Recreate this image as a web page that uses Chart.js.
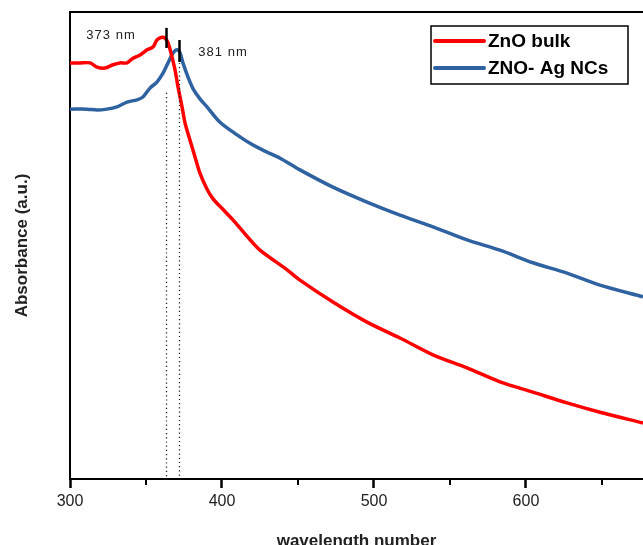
<!DOCTYPE html>
<html>
<head>
<meta charset="utf-8">
<script src="https://cdn.jsdelivr.net/npm/chart.js@4"></script>
<style>
  html, body { margin: 0; padding: 0; background: #fff; overflow: hidden; }
  #wrap { width: 643px; height: 545px; }
</style>
</head>
<body>
<div id="wrap"><canvas id="absChart" width="643" height="545"></canvas></div>
<script>
// --- Data ---
const bulkWl  = [300, 306.6, 313.2, 317.8, 323, 328.3, 332.9, 337.5, 341.4, 346.1, 350.7, 354.6, 357.2, 360.5, 362.5, 364.5, 367.1, 369.1, 371.1, 373.7, 375.7, 378.9, 382.2, 385.5, 390.1, 394.1, 400.7, 407.2, 416.4, 425, 442.8, 451.3, 473, 495.4, 517.1, 538.8, 561.2, 582.9, 604.6, 627, 648.7, 677];
const bulkAbs = [0.891, 0.891, 0.891, 0.882, 0.880, 0.887, 0.891, 0.891, 0.901, 0.908, 0.919, 0.925, 0.940, 0.946, 0.944, 0.934, 0.904, 0.876, 0.839, 0.797, 0.762, 0.726, 0.690, 0.655, 0.621, 0.600, 0.577, 0.555, 0.520, 0.490, 0.448, 0.426, 0.379, 0.336, 0.302, 0.266, 0.238, 0.208, 0.186, 0.163, 0.143, 0.120];

const ncWl  = [300, 311.2, 317.8, 324.3, 330.9, 337.5, 344.1, 348, 352.6, 357.2, 361.2, 364.5, 367.8, 370.4, 372.4, 374.3, 377.6, 380.9, 385.5, 390.1, 398.7, 409.9, 420.4, 429.6, 438.2, 451.3, 473, 495.4, 517.1, 538.8, 561.2, 582.9, 604.6, 627, 648.7, 677];
const ncAbs = [0.792, 0.792, 0.790, 0.792, 0.797, 0.807, 0.812, 0.818, 0.837, 0.850, 0.869, 0.891, 0.912, 0.919, 0.912, 0.891, 0.861, 0.836, 0.814, 0.797, 0.764, 0.737, 0.715, 0.700, 0.687, 0.662, 0.625, 0.593, 0.565, 0.540, 0.512, 0.490, 0.463, 0.441, 0.415, 0.390];

const seriesLabels = ['ZnO bulk', 'ZNO- Ag NCs'];
const xTicks = [300, 400, 500, 600];
const xMinorTicks = [350, 450, 550, 650];

// peak markers
const peakWl = [363, 371.7];
const peakMarkTop = [0.966, 0.940];
const peakMarkBottom = [0.923, 0.893];
const peakDotTop = [0.827, 0.891];
const peakTextWl = [327, 400.7];
const peakTextAbs = [0.949, 0.914];
const peakText = ['373 nm', '381 nm'];

const RED = '#ff0000';
const BLUE = '#2f62a0';
const FONT = '"Liberation Sans", Arial, sans-serif';

const toXY = (xs, ys) => xs.map((x, i) => ({ x: x, y: ys[i] }));

// --- Frame top, minor ticks, peak marks, boxed legend ---
const extras = {
    id: 'extras',
    afterDatasetsDraw(chart) {
        const { ctx, chartArea, scales } = chart;
        const xs = scales.x, ys = scales.y;
        ctx.save();

        // top frame line
        ctx.strokeStyle = '#000';
        ctx.lineWidth = 2;
        ctx.beginPath();
        ctx.moveTo(chartArea.left - 1, chartArea.top);
        ctx.lineTo(chartArea.right, chartArea.top);
        ctx.stroke();

        // minor ticks (shorter than the major ones)
        xMinorTicks.forEach(v => {
            const px = Math.round(xs.getPixelForValue(v));
            ctx.beginPath();
            ctx.moveTo(px, chartArea.bottom);
            ctx.lineTo(px, chartArea.bottom + 6);
            ctx.stroke();
        });

        // peak markers + dotted guides
        peakWl.forEach((wl, i) => {
            const px = Math.round(xs.getPixelForValue(wl)) + 0.5;
            ctx.setLineDash([1.2, 3]);
            ctx.lineWidth = 1.3;
            ctx.strokeStyle = '#222';
            ctx.beginPath();
            ctx.moveTo(px, ys.getPixelForValue(peakDotTop[i]));
            ctx.lineTo(px, chartArea.bottom);
            ctx.stroke();

            ctx.setLineDash([]);
            ctx.lineWidth = 2.5;
            ctx.strokeStyle = '#000';
            ctx.beginPath();
            ctx.moveTo(px, ys.getPixelForValue(peakMarkTop[i]));
            ctx.lineTo(px, ys.getPixelForValue(peakMarkBottom[i]));
            ctx.stroke();

            ctx.fillStyle = '#222';
            ctx.font = '13px ' + FONT;
            ctx.letterSpacing = '1px';
            ctx.textAlign = 'center';
            ctx.textBaseline = 'middle';
            ctx.fillText(peakText[i], xs.getPixelForValue(peakTextWl[i]), ys.getPixelForValue(peakTextAbs[i]));
            ctx.letterSpacing = '0px';
        });

        // boxed legend
        const boxL = 431, boxT = 26, boxW = 197, boxH = 58;
        ctx.fillStyle = '#fff';
        ctx.fillRect(boxL, boxT, boxW, boxH);
        ctx.lineWidth = 1.5;
        ctx.strokeStyle = '#000';
        ctx.strokeRect(boxL, boxT, boxW, boxH);
        chart.data.datasets.forEach((ds, i) => {
            const y = boxT + 15 + i * 27;
            ctx.strokeStyle = ds.borderColor;
            ctx.lineWidth = 4;
            ctx.lineCap = 'round';
            ctx.beginPath();
            ctx.moveTo(boxL + 4, y);
            ctx.lineTo(boxL + 53, y);
            ctx.stroke();
            ctx.fillStyle = '#000';
            ctx.font = 'bold 19px ' + FONT;
            ctx.textAlign = 'left';
            ctx.textBaseline = 'middle';
            ctx.fillText(ds.label, boxL + 57, y + 1);
        });
        ctx.restore();
    }
};

new Chart(document.getElementById('absChart').getContext('2d'), {
    type: 'line',
    data: {
        datasets: [
            { label: seriesLabels[0], data: toXY(bulkWl, bulkAbs), borderColor: RED, borderWidth: 3.5, pointRadius: 0, tension: 0.3, fill: false },
            { label: seriesLabels[1], data: toXY(ncWl, ncAbs), borderColor: BLUE, borderWidth: 3.5, pointRadius: 0, tension: 0.3, fill: false }
        ]
    },
    options: {
        responsive: false,
        animation: false,
        layout: { padding: { top: 12, left: 0, right: 0, bottom: 0 } },
        plugins: { legend: { display: false }, tooltip: { enabled: false } },
        scales: {
            x: {
                type: 'linear',
                min: 300,
                max: 677,
                afterBuildTicks: (scale) => { scale.ticks = xTicks.map(v => ({ value: v })); },
                afterFit: (scale) => { scale.height = 66; },
                border: { display: true, color: '#000', width: 2 },
                grid: { drawOnChartArea: false, drawTicks: true, tickLength: 9, tickWidth: 2.5, tickColor: '#000' },
                ticks: {
                    color: '#222',
                    padding: 4,
                    maxRotation: 0,
                    autoSkip: false,
                    font: { family: FONT, size: 16 }
                },
                title: {
                    display: true,
                    text: 'wavelength number',
                    color: '#222',
                    padding: { top: 0, bottom: -7 },
                    font: { family: FONT, size: 17, weight: 'bold' }
                }
            },
            y: {
                min: 0,
                max: 1,
                afterFit: (scale) => { scale.width = 70; },
                border: { display: true, color: '#000', width: 2 },
                grid: { display: false },
                ticks: { display: false },
                title: {
                    display: true,
                    text: 'Absorbance (a.u.)',
                    color: '#222',
                    padding: { top: 12, bottom: 0 },
                    font: { family: FONT, size: 17, weight: 'bold' }
                }
            }
        }
    },
    plugins: [extras]
});
</script>
</body>
</html>
